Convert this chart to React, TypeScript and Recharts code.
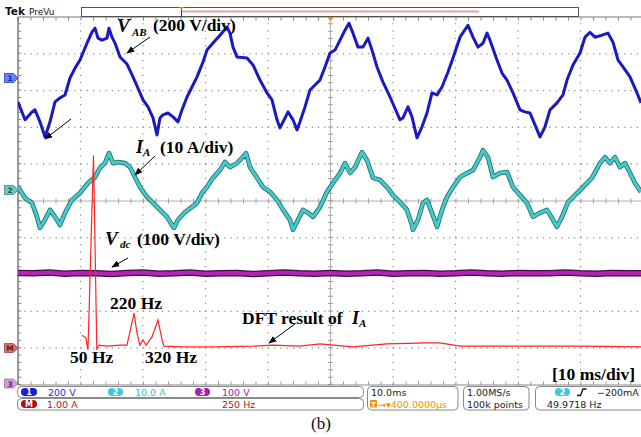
import React from 'react';
import { ComposedChart, Line, XAxis, YAxis, ReferenceLine } from 'recharts';

// ---- Channel 1: V_AB (V), time in ms ----
const abTime = [0,1.12,2.24,2.72,3.52,4.32,5.12,5.92,6.72,7.52,8.32,9.12,9.92,11.04,11.84,12.32,12.8,13.44,14.24,14.56,15.04,15.52,16.32,17.44,18.4,19.52,20,20.8,21.6,22.24,22.72,23.2,24,24.8,25.6,26.24,27.04,27.84,28.64,29.6,30.24,31.2,32.32,33.44,33.92,34.4,35.04,36.64,37.6,38.72,39.84,40.64,41.44,41.92,42.72,43.2,44,44.64,45.12,45.92,46.72,47.84,48.32,49.12,49.92,50.72,51.52,52.32,52.96,53.6,54.4,55.2,56,56.64,57.44,58.4,59.52,60.64,61.12,61.6,62.4,63.04,63.84,64.64,65.44,66.24,67.04,67.84,68.8,69.6,70.72,72,72.8,73.6,74.4,75.04,75.52,76.64,77.44,78.24,79.2,80.32,81.12,81.92,82.72,83.52,84.32,85.12,86.24,87.2,87.84,88.8,89.92,90.72,91.52,92.32,93.44,94.4,95.2,96,96.8,97.92,99.04,99.68];
const abVolt = [-141,-238,-195,-184,-249,-331,-249,-141,-119,-103,-11,43,87,179,238,260,206,195,206,260,211,179,103,65,-5,-92,-130,-168,-228,-320,-228,-211,-201,-222,-249,-184,-114,-60,-5,76,141,179,222,266,233,157,103,98,60,-22,-92,-130,-238,-282,-228,-195,-238,-293,-249,-168,-76,-38,-22,49,125,141,195,249,287,233,157,157,206,141,49,-33,-114,-201,-238,-228,-168,-222,-336,-276,-201,-92,-103,-60,22,98,211,276,211,157,179,233,195,87,16,-22,-92,-184,-195,-201,-266,-331,-276,-184,-146,-103,-22,60,125,211,238,211,222,233,184,87,49,-5,-92,-146];

// ---- Channel 2: I_A (A) ----
const iaTime = [0,1.12,2.24,3.04,3.52,4.32,5.12,5.92,6.72,7.52,8.64,9.92,11.2,12.32,13.12,13.92,14.56,15.2,16,17.12,17.92,18.72,19.52,20.64,21.6,22.72,23.84,24.64,24.96,25.6,26.72,27.84,28.64,29.44,30.24,31.2,32.32,33.12,33.92,35.04,35.84,36.48,37.12,38.24,39.2,40.32,41.44,42.4,43.52,44,44.8,45.6,46.4,47.2,48,48.32,49.44,50.4,51.52,52.32,53.12,53.92,55.04,55.84,56.8,57.92,59.04,60,61.12,62.24,63.04,63.2,64,64.8,65.44,66.24,67.04,67.84,68.64,69.6,70.72,71.84,72.8,73.92,74.4,75.2,76,77.12,78.24,79.2,80.32,81.44,82.4,83.52,84.64,85.6,86.24,87.04,88,89.12,90.4,91.84,93.12,93.92,94.72,95.52,96.32,97.12,97.92,98.72,99.68];
const iaAmp = [0.8,-2.2,-3.5,-7.3,-10.3,-8.1,-5.4,-7.3,-9.5,-6.2,-2.7,-0.8,1.9,3.5,6.0,7.3,10.0,7.3,7.6,7.3,6.2,3.5,0.8,-1.9,-3.5,-5.4,-7.3,-9.5,-10.3,-8.1,-6.0,-4.6,-3.5,-0.8,0.8,3.3,5.4,7.6,6.2,7.3,8.7,10.0,6.2,3.3,0.8,-0.5,-2.7,-5.4,-8.1,-10.8,-8.1,-5.4,-6.2,-7.3,-5.4,-4.6,-0.5,1.9,4.6,7.3,4.6,6.2,10.3,8.1,3.3,2.7,0.8,-1.4,-3.3,-5.4,-9.5,-10.8,-8.1,-3.5,-2.7,-6.2,-10.0,-5.4,-1.9,0.8,3.5,4.6,5.4,8.9,10.8,8.9,3.5,4.6,4.9,0.8,-1.4,-3.5,-7.3,-6.2,-5.4,-8.1,-10.0,-7.3,-3.3,-1.4,0.8,3.3,7.3,8.9,7.3,8.9,6.2,7.3,4.6,1.9,-0.5];

// ---- Channel 3: Vdc (V) ----
const vdcTime = [0,2.5,5,7.5,10,12.5,15,17.5,20,22.5,25,27.5,30,32.5,35,37.5,40,42.5,45,47.5,50,52.5,55,57.5,60,62.5,65,67.5,70,72.5,75,77.5,80,82.5,85,87.5,90,92.5,95,97.5,99.68];
const vdcVolt = [299,298,300,297,299,298,296,299,300,297,298,300,297,298,299,296,298,300,298,297,299,297,298,300,297,298,299,297,298,300,298,297,299,298,298,300,298,297,299,298,298];

// ---- Math: DFT of I_A (A), frequency in Hz ----
const fftFreq = [2,18,27,50,64,73,106,161,190,207,220,232,244,257,270,295,320,337,345,424,567,718,801,914,998,1136,1278,1446,1500,1584,1835,2074,2342];
const fftAmp = [0.35,0.27,-0.05,5.23,-0.05,0.08,0.05,0.08,0.08,0.57,0.95,0.41,0.08,0.22,0.08,0.3,0.76,0.22,0.05,0.03,0.03,0.05,0.08,0.05,0.11,0.03,0.11,0.14,0.14,0.05,0.05,0.05,0.03];

// graticule divisions
const gridRows = [1, 2, 3, 4, 6, 7, 8, 9];
const gridCols = [10, 20, 30, 40, 60, 70, 80, 90];

const abData = abTime.map((t, i) => ({ t, v: abVolt[i] }));
const iaData = iaTime.map((t, i) => ({ t, v: iaAmp[i] }));
const vdcData = vdcTime.map((t, i) => ({ t, v: vdcVolt[i] }));
const fftData = fftFreq.map((f, i) => ({ f, v: fftAmp[i] }));

const serif = '"Liberation Serif", "Times New Roman", serif';
const sans = '"DejaVu Sans", "Liberation Sans", sans-serif';

const Marker = ({ cy, fill, stroke, label, color }: any) => (
  <g>
    <path d={`M4.5,${cy - 4.5} L13.5,${cy - 4.5} L18,${cy} L13.5,${cy + 4.5} L4.5,${cy + 4.5} Z`} fill={fill} stroke={stroke} strokeWidth={0.8} />
    <text x={10} y={cy + 3} fontFamily={sans} fontSize={7.5} fontWeight="bold" fill={color} textAnchor="middle">{label}</text>
  </g>
);

const Pill = ({ x, y, w, fill, label }: any) => (
  <g>
    <rect x={x} y={y} width={w} height={8} rx={4} fill={fill} />
    <text x={x + w / 2} y={y + 7} fontFamily={sans} fontSize={8} fontWeight="bold" fill="#fff" textAnchor="middle">{label}</text>
  </g>
);

const Overlay = () => (
  <svg width={641} height={437} style={{ position: 'absolute', left: 0, top: 0, pointerEvents: 'none' }}>
    <defs>
      <marker id="ah" viewBox="0 0 10 10" refX="9" refY="5" markerWidth="8" markerHeight="8" orient="auto">
        <path d="M0,1 L10,5 L0,9 Z" fill="#000" />
      </marker>
    </defs>
    {/* top bar */}
    <text x={5} y={15} fontFamily={sans} fontSize={10.5} fontWeight="bold" fill="#111">Tek</text>
    <text x={29} y={15} fontFamily={sans} fontSize={9} fill="#111">PreVu</text>
    <rect x={81.5} y={7.5} width={497} height={9} fill="#fff" stroke="#555" strokeWidth={1} />
    <line x1={181.5} y1={7.5} x2={181.5} y2={16.5} stroke="#333" strokeWidth={1} />
    <line x1={182} y1={11.5} x2={479} y2={11.5} stroke="#e6a4a4" strokeWidth={2} />
    <path d="M179,7 L184,7 L181.5,10 Z" fill="#f09000" />
    <path d="M327,17 L334,17 L330.5,21 Z" fill="#f09000" />

    {/* channel markers */}
    <Marker cy={78} fill="#6482ff" stroke="#2440c8" label="1" color="#1a2a90" />
    <Marker cy={190} fill="#74c6c6" stroke="#3a8a8a" label="2" color="#1e5a5a" />
    <Marker cy={348} fill="#d07474" stroke="#a04848" label="M" color="#6a1a1a" />
    <Marker cy={383.5} fill="#caa2d6" stroke="#9a70a8" label="3" color="#5a2a6a" />

    {/* annotations */}
    <text x={117} y={32} fontFamily={serif} fontSize={19} fontWeight="bold" fontStyle="italic">V</text>
    <text x={132} y={36} fontFamily={serif} fontSize={11} fontWeight="bold" fontStyle="italic">AB</text>
    <text x={153} y={31} fontFamily={serif} fontSize={17.5} fontWeight="bold">(200 V/div)</text>
    <line x1={150} y1={37} x2={127} y2={53} stroke="#000" strokeWidth={1} markerEnd="url(#ah)" />
    <line x1={71} y1={119} x2={45} y2={139} stroke="#000" strokeWidth={1} markerEnd="url(#ah)" />

    <text x={136} y={153} fontFamily={serif} fontSize={18} fontWeight="bold" fontStyle="italic">I</text>
    <text x={143} y={156} fontFamily={serif} fontSize={11} fontWeight="bold" fontStyle="italic">A</text>
    <text x={160} y={153} fontFamily={serif} fontSize={17.5} fontWeight="bold">(10 A/div)</text>
    <line x1={155} y1={156} x2={135} y2={175} stroke="#000" strokeWidth={1} markerEnd="url(#ah)" />

    <text x={105} y={245} fontFamily={serif} fontSize={19} fontWeight="bold" fontStyle="italic">V</text>
    <text x={120} y={248} fontFamily={serif} fontSize={11} fontWeight="bold" fontStyle="italic">dc</text>
    <text x={137} y={245} fontFamily={serif} fontSize={17.5} fontWeight="bold">(100 V/div)</text>
    <line x1={128} y1={258} x2={112} y2={267} stroke="#000" strokeWidth={1} markerEnd="url(#ah)" />

    <text x={110} y={309} fontFamily={serif} fontSize={17.5} fontWeight="bold">220 Hz</text>
    <text x={70} y={363} fontFamily={serif} fontSize={17.5} fontWeight="bold">50 Hz</text>
    <text x={145} y={363} fontFamily={serif} fontSize={17.5} fontWeight="bold">320 Hz</text>
    <text x={242} y={324} fontFamily={serif} fontSize={17.5} fontWeight="bold">DFT result of</text>
    <text x={352} y={324} fontFamily={serif} fontSize={18} fontWeight="bold" fontStyle="italic">I</text>
    <text x={359} y={327} fontFamily={serif} fontSize={11} fontWeight="bold" fontStyle="italic">A</text>
    <line x1={295} y1={324} x2={269} y2={343} stroke="#000" strokeWidth={1} markerEnd="url(#ah)" />
    <text x={552} y={380} fontFamily={serif} fontSize={17.5} fontWeight="bold">[10 ms/div]</text>

    {/* status bar */}
    <rect x={17.5} y={386.5} width={346} height={11} rx={4} fill="#fff" stroke="#8a8a8a" />
    <rect x={17.5} y={398.5} width={346} height={11.5} rx={4} fill="#fff" stroke="#8a8a8a" />
    <Pill x={21} y={388} w={16} fill="#1c1cd8" label="1" />
    <text x={48} y={395.5} fontFamily={sans} fontSize={9.5} fill="#2a2ad6">200 V</text>
    <Pill x={108} y={388} w={15} fill="#3cc8d8" label="2" />
    <text x={135} y={395.5} fontFamily={sans} fontSize={9.5} fill="#30c0d0">10.0 A</text>
    <Pill x={195} y={388} w={15} fill="#a020a8" label="3" />
    <text x={222} y={395.5} fontFamily={sans} fontSize={9.5} fill="#a020a8">100 V</text>
    <Pill x={21} y={400} w={16} fill="#b01010" label="M" />
    <text x={47} y={407.5} fontFamily={sans} fontSize={9.5} fill="#b01818">1.00 A</text>
    <text x={222} y={407.5} fontFamily={sans} fontSize={9.5} fill="#b01818">250 Hz</text>

    <rect x={367.5} y={386.5} width={90.5} height={23.5} rx={4} fill="#fff" stroke="#8a8a8a" />
    <text x={371} y={395.5} fontFamily={sans} fontSize={9.5} fill="#222">10.0ms</text>
    <rect x={370} y={400} width={7} height={7.5} rx={1} fill="#f09000" />
    <text x={373.5} y={406.5} fontFamily={sans} fontSize={6.5} fontWeight="bold" fill="#fff" textAnchor="middle">T</text>
    <text x={378} y={407.5} fontFamily={sans} fontSize={9.5} fill="#f09000">→▾400.0000µs</text>

    <rect x={463.5} y={386.5} width={65.5} height={23.5} rx={4} fill="#fff" stroke="#8a8a8a" />
    <text x={467} y={395.5} fontFamily={sans} fontSize={9.5} fill="#222">1.00MS/s</text>
    <text x={467} y={407.5} fontFamily={sans} fontSize={9.5} fill="#222">100k points</text>

    <rect x={535.5} y={386.5} width={110} height={23.5} rx={4} fill="#fff" stroke="#8a8a8a" />
    <Pill x={555} y={388} w={15} fill="#3cc8d8" label="2" />
    <path d="M577,395.5 L580.5,395.5 L583,389 L586.5,389" fill="none" stroke="#111" strokeWidth={1.3} />
    <text x={597} y={395.5} fontFamily={sans} fontSize={9.5} fill="#222">−200mA</text>
    <text x={547} y={407.5} fontFamily={sans} fontSize={9.5} fill="#222">49.9718 Hz</text>

    <text x={321} y={429} fontFamily={serif} fontSize={17} textAnchor="middle" fill="#111">(b)</text>
  </svg>
);

export default function App() {
  return (
    <div style={{ position: 'absolute', left: 0, top: 0, width: 641, height: 437, background: '#fff', overflow: 'hidden' }}>
      <ComposedChart width={641} height={437} margin={{ top: 17, right: 0, bottom: 52, left: 18 }}>
        <XAxis xAxisId="t" type="number" dataKey="t" domain={[0, 99.68]} hide allowDataOverflow />
        <XAxis xAxisId="f" type="number" dataKey="f" domain={[-266, 2342]} hide allowDataOverflow />
        <YAxis yAxisId="div" type="number" domain={[0, 10]} hide allowDataOverflow />
        <YAxis yAxisId="ch1" type="number" domain={[-1679.3, 320.7]} hide allowDataOverflow />
        <YAxis yAxisId="ch2" type="number" domain={[-52.99, 47.01]} hide allowDataOverflow />
        <YAxis yAxisId="ch3" type="number" domain={[-5.4, 994.6]} hide allowDataOverflow />
        <YAxis yAxisId="m" type="number" domain={[-1.005, 8.995]} hide allowDataOverflow />

        {gridRows.map((r) => (
          <ReferenceLine key={`r${r}`} xAxisId="t" yAxisId="div" y={r} stroke="#8a8a8a" strokeWidth={1.2} strokeDasharray="1.2 5.05" />
        ))}
        {gridCols.map((c) => (
          <ReferenceLine key={`c${c}`} xAxisId="t" yAxisId="div" x={c} stroke="#8a8a8a" strokeWidth={1.2} strokeDasharray="1.2 6.16" />
        ))}

        <ReferenceLine xAxisId="t" yAxisId="div" y={5} stroke="#b0b0b0" strokeWidth={1} />
        <ReferenceLine xAxisId="t" yAxisId="div" y={5} stroke="#a0a0a0" strokeWidth={5} strokeDasharray="1 11.5" />
        <ReferenceLine xAxisId="t" yAxisId="div" x={50} stroke="#b0b0b0" strokeWidth={1} />
        <ReferenceLine xAxisId="t" yAxisId="div" x={50} stroke="#a0a0a0" strokeWidth={5} strokeDasharray="1 6.36" />
        <ReferenceLine xAxisId="t" yAxisId="div" y={10} stroke="#777" strokeWidth={1.2} />
        <ReferenceLine xAxisId="t" yAxisId="div" y={9.95} stroke="#888" strokeWidth={3.5} strokeDasharray="1 11.5" />
        <ReferenceLine xAxisId="t" yAxisId="div" y={0} stroke="#888" strokeWidth={1} />
        <ReferenceLine xAxisId="t" yAxisId="div" y={0.05} stroke="#999" strokeWidth={3.5} strokeDasharray="1 11.5" />
        <ReferenceLine xAxisId="t" yAxisId="div" x={0} stroke="#777" strokeWidth={1.5} />
        <ReferenceLine xAxisId="t" yAxisId="div" x={0.25} stroke="#888" strokeWidth={3.5} strokeDasharray="1 6.36" />

        <Line data={abData} dataKey="v" xAxisId="t" yAxisId="ch1" type="linear" stroke="#1a1ac0" strokeWidth={3} dot={false} isAnimationActive={false} strokeLinejoin="round" />
        <Line data={iaData} dataKey="v" xAxisId="t" yAxisId="ch2" type="linear" stroke="#2a6666" strokeWidth={4.6} dot={false} isAnimationActive={false} strokeLinejoin="round" />
        <Line data={iaData} dataKey="v" xAxisId="t" yAxisId="ch2" type="linear" stroke="#40cccc" strokeWidth={3} dot={false} isAnimationActive={false} strokeLinejoin="round" />
        <Line data={vdcData} dataKey="v" xAxisId="t" yAxisId="ch3" type="linear" stroke="#3e0e44" strokeWidth={6.5} dot={false} isAnimationActive={false} />
        <Line data={vdcData} dataKey="v" xAxisId="t" yAxisId="ch3" type="linear" stroke="#b424b4" strokeWidth={4} dot={false} isAnimationActive={false} />
        <Line data={fftData} dataKey="v" xAxisId="f" yAxisId="m" type="linear" stroke="#ff2424" strokeWidth={1.2} dot={false} isAnimationActive={false} />
      </ComposedChart>
      <Overlay />
    </div>
  );
}
